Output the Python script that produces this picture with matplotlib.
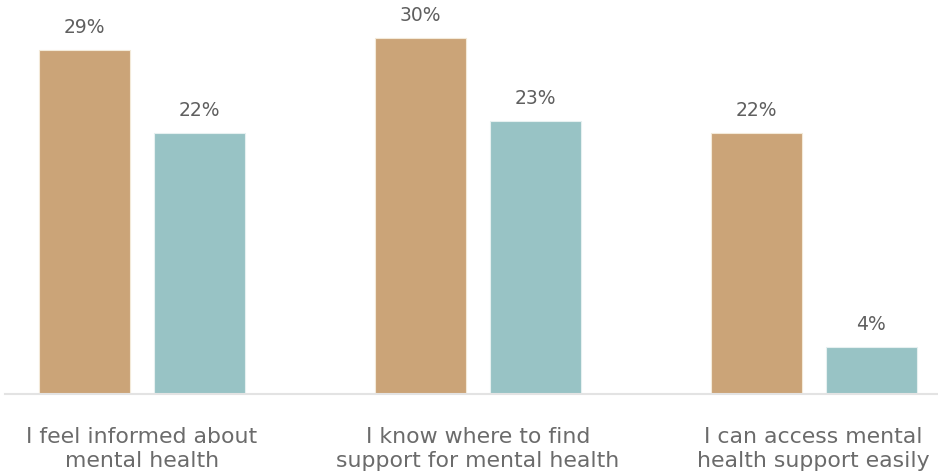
import matplotlib
matplotlib.use("Agg")
import matplotlib.pyplot as plt
import numpy as np

categories = ["I feel informed about\nmental health",
              "I know where to find\nsupport for mental health",
              "I can access mental\nhealth support easily"]
series_a = [29, 30, 22]
series_b = [22, 23, 4]

tan = "#CBA478"
teal = "#98C3C5"

plt.rcParams['font.family'] = ['DejaVu Sans']

fig = plt.figure(figsize=(9.38, 4.77), dpi=100)
ax = fig.add_axes([5/938, 82/477, 933/938, 33*11.87/477])

x = np.arange(len(categories))
w = 0.271
off = 0.171
ba = ax.bar(x - off, series_a, w, color=tan, edgecolor="#f3ead9", linewidth=0.8)
bb = ax.bar(x + off, series_b, w, color=teal, edgecolor="#e6f0f0", linewidth=0.8)

for bars, vals in ((ba, series_a), (bb, series_b)):
    for r, v in zip(bars, vals):
        ax.annotate(f"{v}%", (r.get_x() + r.get_width()/2, v),
                    xytext=(0, 10), textcoords="offset points",
                    ha="center", va="bottom", fontsize=13.5, color="#5f5f5f")

ax.set_xlim(-0.408, 2.3705)
ax.set_ylim(0, 33)
for s in ("top", "right", "left"):
    ax.spines[s].set_visible(False)
ax.spines["bottom"].set_color("#e3e3e3")
ax.spines["bottom"].set_linewidth(1.5)
ax.set_yticks([])
ax.set_xticks(x)
ax.set_xticklabels(categories, fontsize=15.8, color="#6b6b6b", linespacing=1.25)
ax.tick_params(axis="x", length=0, pad=23)

fig.savefig("out.png", dpi=100)
